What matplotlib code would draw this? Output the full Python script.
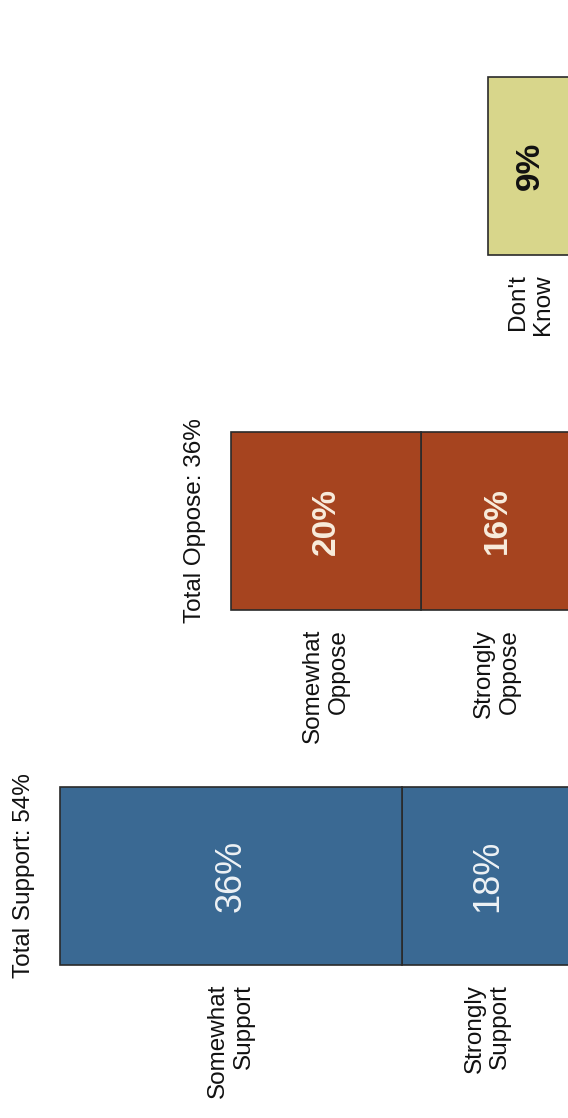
import matplotlib.pyplot as plt

# Donnees du graphique (page tournee de 90 degres)
groups = ['Support', 'Oppose', "Don't Know"]
seg_values = [[18, 36], [16, 20], [9]]
seg_labels = [['Strongly\nSupport', 'Somewhat\nSupport'],
              ['Strongly\nOppose', 'Somewhat\nOppose'],
              ["Don't\nKnow"]]
totals = ['Total Support: 54%', 'Total Oppose: 36%', None]

bar_colors = ['#3a6993', '#a6441f', '#d8d68b']
value_colors = ['#eef2f5', '#f8ecdc', '#111111']
value_weights = ['normal', 'bold', 'bold']
value_sizes = [26, 24, 24]

plt.rcParams['font.family'] = ['Liberation Sans', 'DejaVu Sans']

fig = plt.figure(figsize=(5.68, 11.18), dpi=100)
ax = fig.add_axes([0, 0, 1, 1])

bar_h = 0.5
for i, vals in enumerate(seg_values):
    left = 0
    for j, v in enumerate(vals):
        ax.barh(i, v, left=left, height=bar_h, color=bar_colors[i],
                edgecolor='#2a2a2a', linewidth=1.2)
        mid = left + v / 2
        ax.text(mid, i, f'{v}%', rotation=90, ha='center', va='center',
                rotation_mode='anchor', color=value_colors[i],
                fontsize=value_sizes[i], fontweight=value_weights[i])
        ax.text(mid, i - bar_h / 2 - 0.054, seg_labels[i][j], rotation=90,
                ha='right', va='center', rotation_mode='anchor',
                multialignment='right', fontsize=17.5, linespacing=1.2,
                color='#111111')
        left += v
    if totals[i]:
        ax.text(left + 3.8, i, totals[i], rotation=90, ha='center',
                va='center', rotation_mode='anchor', fontsize=17.5,
                color='#111111')

# base des barres juste hors du cadre a droite
ax.set_xlim(60.32, 0.53)
ax.set_ylim(-0.682, 2.468)
ax.axis('off')

fig.savefig('out.png', dpi=100, facecolor='white')
